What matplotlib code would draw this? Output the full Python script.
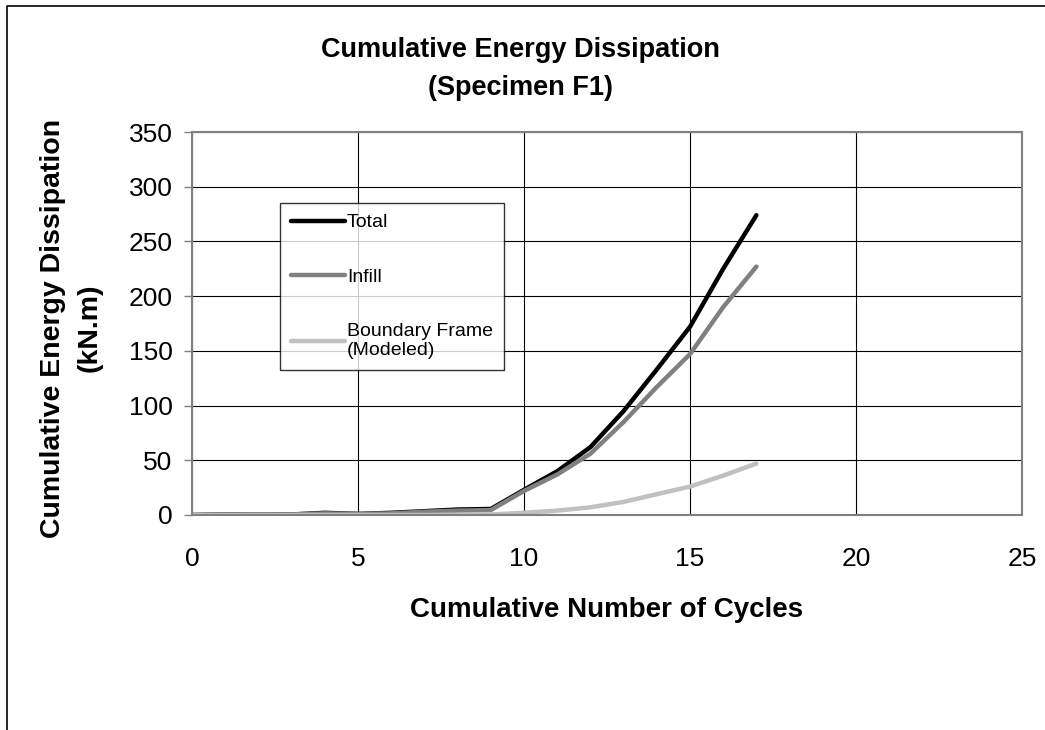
import matplotlib.pyplot as plt
from matplotlib.lines import Line2D

plt.rcParams['font.family'] = ['Liberation Sans', 'DejaVu Sans']

# cumulative number of cycles
cycles = [0, 1, 2, 3, 4, 5, 6, 7, 8, 9, 10, 11, 12, 13, 14, 15, 16, 17]
# cumulative energy dissipation (kN.m)
total = [0, 0.5, 0.3, 0.5, 2, 1, 2, 3.5, 5, 5.5, 23, 40, 62, 95, 133, 172, 225, 274]
infill = [0, 0.5, 0.3, 0.5, 1.5, 1, 1.5, 3, 4, 4.5, 22, 37, 56, 85, 117, 147, 190, 227]
boundary = [0, 0, 0, 0, 0, 0, 0, 0, 0.3, 0.5, 2, 4, 7, 12, 19, 26, 36, 47]

x_ticks = [0, 5, 10, 15, 20, 25]
y_ticks = [0, 50, 100, 150, 200, 250, 300, 350]

W, H = 1045, 730


def fx(px):
    return px / W


def fy(py):
    return 1 - py / H


fig = plt.figure(figsize=(W / 100, H / 100), dpi=100)
ax = fig.add_axes([fx(192), fy(515), (1022 - 192) / W, (515 - 132) / H])

ax.set_xlim(0, 25)
ax.set_ylim(0, 350)
ax.set_xticks(x_ticks)
ax.set_yticks(y_ticks)
ax.grid(True, color="black", linewidth=0.8)
ax.set_axisbelow(True)

for s in ax.spines.values():
    s.set_color("#808080")
    s.set_linewidth(1.5)

ax.tick_params(axis="x", length=0, pad=23, labelsize=19)
ax.tick_params(axis="y", length=6, width=1, color="#808080", pad=8, labelsize=19)

ax.plot(cycles, total, color="black", lw=3.2, label="Total", solid_capstyle="round")
ax.plot(cycles, infill, color="#808080", lw=3.2, label="Infill", solid_capstyle="round")
ax.plot(cycles, boundary, color="#c0c0c0", lw=3.2, label="Boundary Frame\n(Modeled)",
        solid_capstyle="round")

leg = ax.legend(loc="upper left", bbox_to_anchor=(fx(280), fy(203)),
                bbox_transform=fig.transFigure, fontsize=14, frameon=True,
                fancybox=False, edgecolor="black", handlelength=2.8,
                handletextpad=0.1, labelspacing=1.9, borderpad=0.55,
                borderaxespad=0)
leg.get_frame().set_linewidth(1)

# title
fig.text(fx(520), fy(57), "Cumulative Energy Dissipation", ha="center",
         va="baseline", fontsize=19.5, fontweight="bold")
fig.text(fx(520), fy(95), "(Specimen F1)", ha="center",
         va="baseline", fontsize=19.5, fontweight="bold")

# y label
fig.text(fx(60), fy(328), "Cumulative Energy Dissipation", ha="center",
         va="baseline", rotation=90, rotation_mode="anchor",
         fontsize=20.5, fontweight="bold")
fig.text(fx(97), fy(328), "(kN.m)", ha="center",
         va="baseline", rotation=90, rotation_mode="anchor",
         fontsize=20.5, fontweight="bold")

# x label
fig.text(fx(607), fy(617), "Cumulative Number of Cycles", ha="center",
         va="baseline", fontsize=20, fontweight="bold")

# chart area border (left and top edges)
fig.add_artist(Line2D([fx(7), fx(7), fx(1045)], [fy(730), fy(6), fy(6)],
                      transform=fig.transFigure, color="black", lw=1.2))

plt.savefig("out.png", dpi=100)
